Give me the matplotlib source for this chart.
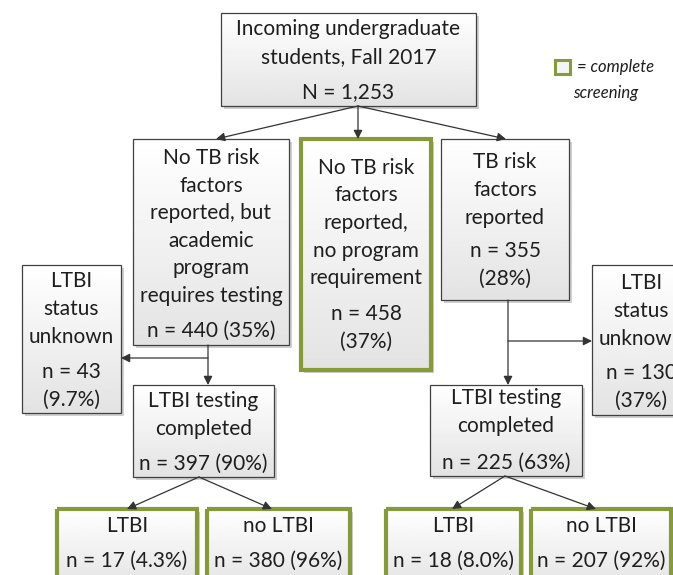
import matplotlib.pyplot as plt
import numpy as np
from matplotlib.patches import Rectangle

plt.rcParams['font.family'] = ['Lato', 'DejaVu Sans']

# Flowchart content (counts and shares)
titles = ["Incoming undergraduate\nstudents, Fall 2017",
          "No TB risk\nfactors\nreported, but\nacademic\nprogram\nrequires testing",
          "No TB risk\nfactors\nreported,\nno program\nrequirement",
          "TB risk\nfactors\nreported",
          "LTBI\nstatus\nunknown",
          "LTBI testing\ncompleted",
          "LTBI\nstatus\nunknown",
          "LTBI testing\ncompleted",
          "LTBI", "no LTBI", "LTBI", "no LTBI"]
counts = [1253, 440, 458, 355, 43, 397, 130, 225, 17, 380, 18, 207]
pcts = [None, "35%", "37%", "28%", "9.7%", "90%", "37%", "63%", "4.3%", "96%", "8.0%", "92%"]
complete = [False, False, True, False, False, False, False, False, True, True, True, True]

# Layout in pixel coordinates: box (x0, y0, x1, y1), title centre y, count centre y, count split
boxes = [(221, 13, 476, 106), (133, 139, 289, 345), (301, 139, 431, 370),
         (441, 139, 569, 300), (22, 265, 121, 413), (133, 385, 274, 477),
         (592, 265, 691, 415), (430, 385, 582, 476),
         (57, 509, 197, 590), (207, 509, 350, 590), (386, 509, 521, 590), (531, 509, 671, 590)]
title_y = [43, 227, 223, 190, 309, 415, 311, 412, 526, 526, 526, 526]
count_y = [92, 331, 328, 265, 386, 464, 387, 463, 561, 561, 561, 561]
split = [False, False, True, True, True, False, True, False, False, False, False, False]

# arrows: (x_start, y_start, x_end, y_end)
arrows = [(358, 106, 216, 139), (358, 106, 358, 139), (358, 106, 506, 139),
          (208, 358, 121, 358), (208, 345, 208, 385),
          (508, 341, 592, 341), (508, 300, 508, 385),
          (199, 477, 127, 509), (199, 477, 272, 509),
          (505, 476, 452, 509), (505, 476, 596, 509)]

GREEN = "#869a3a"
EDGE = "#404040"
FS = 15
LS = 1.47

fig = plt.figure(figsize=(6.73, 5.75), dpi=100)
ax = fig.add_axes([0, 0, 1, 1])
ax.set_xlim(0, 673)
ax.set_ylim(575, 0)
ax.axis("off")

grad = np.linspace(1.0, 0.89, 64).reshape(-1, 1)

for i, (x0, y0, x1, y1) in enumerate(boxes):
    w, h = x1 - x0, y1 - y0
    ax.add_patch(Rectangle((x0 + 3, y0 + 3), w, h, facecolor="#d0d0d0", edgecolor="none", zorder=1))
    ax.imshow(grad, cmap="gray", vmin=0, vmax=1, extent=(x0, x1, y1, y0),
              aspect="auto", interpolation="bilinear", zorder=2)
    if complete[i]:
        ax.add_patch(Rectangle((x0, y0), w, h, facecolor="none", edgecolor=GREEN, lw=3.0, zorder=3))
    else:
        ax.add_patch(Rectangle((x0, y0), w, h, facecolor="none", edgecolor=EDGE, lw=0.9, zorder=3))
    cx = (x0 + x1) / 2
    ax.text(cx, title_y[i], titles[i], ha="center", va="center", fontsize=FS,
            linespacing=LS, color="#1e1e1e", zorder=4)
    if i == 0:
        ctext = "N = {:,}".format(counts[i])
    elif split[i]:
        ctext = "n = {}\n({})".format(counts[i], pcts[i])
    else:
        ctext = "n = {} ({})".format(counts[i], pcts[i])
    ax.text(cx, count_y[i], ctext, ha="center", va="center", fontsize=FS,
            linespacing=LS, color="#1e1e1e", zorder=4)

for xs, ys, xe, ye in arrows:
    ax.annotate("", xy=(xe, ye), xytext=(xs, ys),
                arrowprops=dict(arrowstyle="-|>", color="#333333", lw=0.9,
                                mutation_scale=13, shrinkA=0, shrinkB=0), zorder=5)

# legend for green boxes
ax.add_patch(Rectangle((555, 60), 15, 14, facecolor="#f4f4f4", edgecolor=GREEN, lw=2.2, zorder=3))
ax.text(577, 67, "= complete", ha="left", va="center", fontsize=12, style="italic", color="#1e1e1e")
ax.text(606, 93, "screening", ha="center", va="center", fontsize=12, style="italic", color="#1e1e1e")

fig.savefig("out.png", dpi=100)
